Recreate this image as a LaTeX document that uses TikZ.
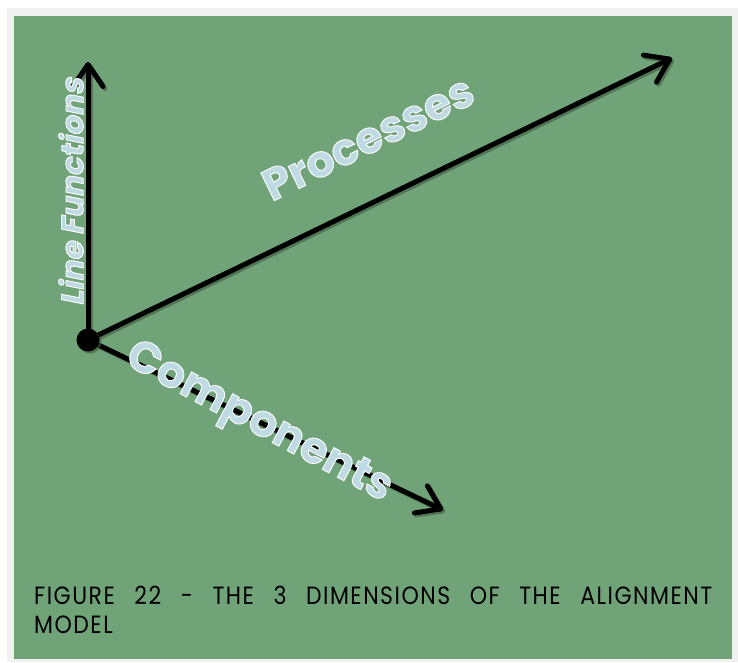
\documentclass[tikz,border=0pt]{standalone}
\usepackage{fontspec}
\setmainfont{Poppins}
\newfontfamily\axisfont{Poppins}
\newfontfamily\slantfont[FakeSlant=0.2]{Poppins}
\newfontfamily\capfont[FakeStretch=0.88,LetterSpace=6]{Poppins}
\usetikzlibrary{arrows.meta}
\definecolor{panelgreen}{RGB}{113,163,120}
\definecolor{framegray}{RGB}{240,240,240}
\definecolor{letterblue}{RGB}{192,218,228}
\definecolor{shadowgreen}{RGB}{58,88,62}
% blue letters with a white rim (fill + stroke render mode)
\newcommand\embossed[1]{%
  \leavevmode{\color{letterblue}%
  \special{pdf:code 2 Tr 0.9 w 1 1 1 RG 0.753 0.855 0.894 rg}#1\special{pdf:code 0 Tr}}}
\tikzset{
  axis/.style       = {line width=5pt, line cap=round,
                       -{Straight Barb[length=22pt,width=30pt,round]}},
  axisshadow/.style = {axis, draw=shadowgreen, opacity=0.6,
                       transform canvas={shift={(2pt,-2pt)}}},
  axislabel/.style  = {inner sep=0pt, anchor=center},
  origin/.style     = {circle, fill=black, minimum size=23pt, inner sep=0pt}
}

\begin{document}
\begin{tikzpicture}[x=1pt, y=-1pt]
  \useasboundingbox (0,0) rectangle (738,662);
  \fill[white] (0,0) rectangle (738,662);
  \fill[framegray] (7,8) rectangle (738,662);
  \fill[panelgreen] (14,16) rectangle (732,659);

  \coordinate (o) at (88,340);
  \coordinate (lf) at (88,62);
  \coordinate (pr) at (672,58);
  \coordinate (co) at (443,510);

  \draw[axisshadow] (o) -- (lf);
  \draw[axisshadow] (o) -- (pr);
  \draw[axisshadow] (o) -- (co);
  \draw[axis] (o) -- (lf);
  \draw[axis] (o) -- (pr);
  \draw[axis] (o) -- (co);
  \fill[shadowgreen, opacity=0.6] ([shift={(2pt,-2pt)}]o) circle (11.5pt);
  \node[origin] (dot) at (o) {};

  \node[axislabel, rotate=90] (lflabel) at (71,192)
    {\fontsize{31}{34}\slantfont\bfseries\embossed{Line Functions}};
  \node[axislabel, rotate=26] (prlabel) at (368,138)
    {\fontsize{44}{47}\axisfont\bfseries\embossed{Processes}};
  \node[axislabel, rotate=-28] (colabel) at (258,424)
    {\fontsize{44}{47}\axisfont\bfseries\embossed{Components}};

  \node[anchor=north west, inner sep=0pt] (caption) at (34,586)
    {\parbox{678pt}{\fontsize{25}{29}\capfont
     FIGURE 22 - THE 3 DIMENSIONS OF THE ALIGNMENT\linebreak MODEL}};
\end{tikzpicture}
\end{document}
